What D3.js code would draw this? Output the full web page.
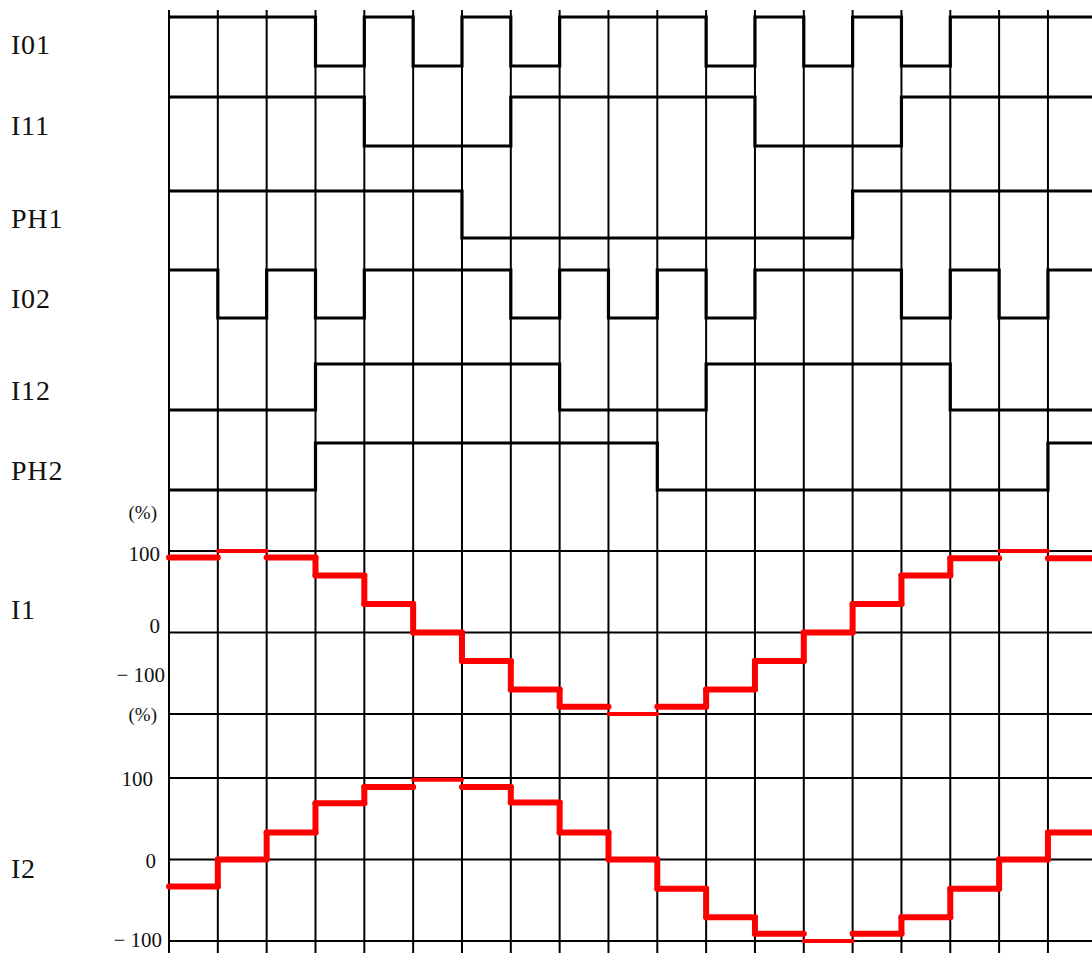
<!DOCTYPE html>
<html>
<head>
<meta charset="utf-8">
<script src="https://cdn.jsdelivr.net/npm/d3@7"></script>
<style>
  html, body { margin: 0; padding: 0; background: #fff; }
  svg { display: block; }
  text { font-family: "Liberation Serif", "Times New Roman", serif; fill: #111; }
</style>
</head>
<body>
<svg id="chart" width="1092" height="953"></svg>
<script>
// ---------- data ----------
const signalNames = ["I01", "I11", "PH1", "I02", "I12", "PH2"];
const I01 = [1,1,1,0,1,0,1,0,1,1,1,0,1,0,1,0,1,1,1];
const I11 = [1,1,1,1,0,0,0,1,1,1,1,1,0,0,0,1,1,1,1];
const PH1 = [1,1,1,1,1,1,0,0,0,0,0,0,0,0,1,1,1,1,1];
const I02 = [1,0,1,0,1,1,1,0,1,0,1,0,1,1,1,0,1,0,1];
const I12 = [0,0,0,1,1,1,1,1,0,0,0,1,1,1,1,1,0,0,0];
const PH2 = [0,0,0,1,1,1,1,1,1,1,0,0,0,0,0,0,0,0,1];
const I1 = [92,100,92,70,35,0,-35,-70,-91,-100,-91,-70,-35,0,35,70,91,100,91];
const I2 = [-33,0,33,69,89,98,89,70,33,0,-36,-71,-91,-100,-91,-71,-36,0,33];
const analogTicks = [100, 0, -100];
const tickLabels = ["100", "0", "\u2212 100"];

// ---------- layout ----------
const svg = d3.select("#chart");
const nSeg = I01.length;
const x = d3.scaleLinear().domain([0, nSeg]).range([169, 169 + nSeg * 48.83]);

const signalData = [I01, I11, PH1, I02, I12, PH2];
const signalLevels = [[66, 17], [146, 97], [238, 191], [318, 270], [410, 364], [490, 443]];
const signalLabelY = [54, 135, 228, 308, 400, 480];

const yI1 = d3.scaleLinear().domain([-100, 100]).range([714, 551]);
const yI2 = d3.scaleLinear().domain([-100, 100]).range([941, 778]);

const clip = svg.append("defs").append("clipPath").attr("id", "clip");
clip.append("rect").attr("x", 0).attr("y", 0).attr("width", 1092).attr("height", 953);
const g = svg.append("g").attr("clip-path", "url(#clip)");

// vertical grid lines
g.append("g").selectAll("line")
  .data(d3.range(0, nSeg + 1))
  .join("line")
  .attr("x1", d => x(d)).attr("x2", d => x(d))
  .attr("y1", 10).attr("y2", 953)
  .attr("stroke", "#000").attr("stroke-width", 2);

// horizontal grid lines for analog panels
[yI1, yI2].forEach(ys => {
  g.append("g").selectAll("line")
    .data(analogTicks)
    .join("line")
    .attr("x1", x(0)).attr("x2", 1092)
    .attr("y1", d => ys(d)).attr("y2", d => ys(d))
    .attr("stroke", "#000").attr("stroke-width", 2);
});

// digital signals
signalData.forEach((sig, k) => {
  const ys = d3.scaleLinear().domain([0, 1]).range(signalLevels[k]);
  const pts = sig.map((v, i) => [i, v]);
  pts.push([nSeg, sig[nSeg - 1]]);
  const line = d3.line()
    .x(d => x(d[0]))
    .y(d => ys(d[1]))
    .curve(d3.curveStepAfter);
  g.append("path")
    .attr("d", line(pts))
    .attr("fill", "none")
    .attr("stroke", "#000")
    .attr("stroke-width", 3.2)
    .attr("stroke-linejoin", "miter");
  svg.append("text")
    .attr("x", 11).attr("y", signalLabelY[k])
    .attr("font-size", 28)
    .attr("letter-spacing", 0.8)
    .text(signalNames[k]);
});

// analog staircases
function drawStair(vals, ys) {
  const gg = g.append("g")
    .attr("stroke", "#ff0000")
    .attr("stroke-linecap", "round")
    .attr("fill", "none");
  gg.selectAll("line.h")
    .data(vals)
    .join("line")
    .attr("class", "h")
    .attr("x1", (d, i) => x(i)).attr("x2", (d, i) => x(i + 1))
    .attr("y1", d => ys(d)).attr("y2", d => ys(d))
    .attr("stroke-width", d => Math.abs(d) >= 97 ? 4 : 6);
  const steps = vals.slice(1).map((v, i) => ({ i: i + 1, a: vals[i], b: v }))
    .filter(s => Math.abs(s.b - s.a) > 15);
  gg.selectAll("line.v")
    .data(steps)
    .join("line")
    .attr("class", "v")
    .attr("x1", s => x(s.i)).attr("x2", s => x(s.i))
    .attr("y1", s => ys(s.a)).attr("y2", s => ys(s.b))
    .attr("stroke-width", 6);
}
drawStair(I1, yI1);
drawStair(I2, yI2);

// analog labels
svg.append("text").attr("x", 11).attr("y", 619).attr("font-size", 28).attr("letter-spacing", 0.8).text("I1");
svg.append("text").attr("x", 11).attr("y", 878).attr("font-size", 28).attr("letter-spacing", 0.8).text("I2");

// tick labels (I1 panel)
const i1Offsets = [[160, 10], [160, 0], [165, -32]];
analogTicks.forEach((t, k) => {
  svg.append("text")
    .attr("x", i1Offsets[k][0]).attr("y", yI1(t) + i1Offsets[k][1])
    .attr("text-anchor", "end").attr("font-size", 21)
    .text(tickLabels[k]);
});
const i2Offsets = [[153, 8], [156, 8], [162, 6]];
analogTicks.forEach((t, k) => {
  svg.append("text")
    .attr("x", i2Offsets[k][0]).attr("y", yI2(t) + i2Offsets[k][1])
    .attr("text-anchor", "end").attr("font-size", 21)
    .text(tickLabels[k]);
});
svg.append("text").attr("x", 157).attr("y", 519).attr("text-anchor", "end").attr("font-size", 19).text("(%)");
svg.append("text").attr("x", 157).attr("y", 721).attr("text-anchor", "end").attr("font-size", 19).text("(%)");
</script>
</body>
</html>
